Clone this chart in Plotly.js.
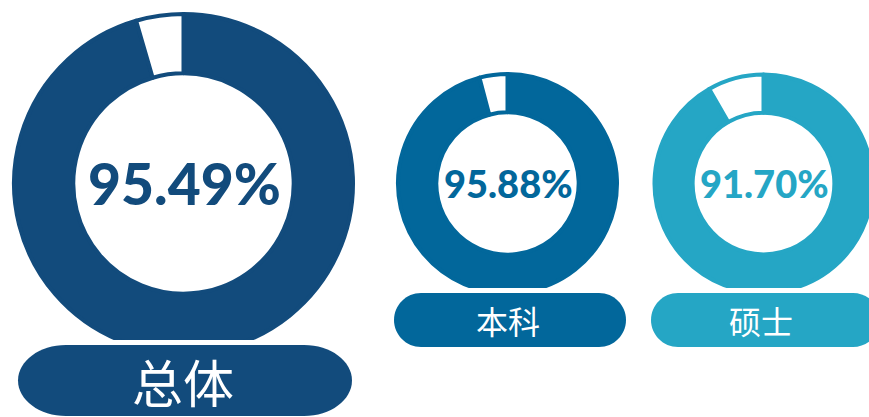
<!DOCTYPE html>
<html><head><meta charset="utf-8">
<script src="https://cdn.plot.ly/plotly-3.0.1.min.js"></script>
<style>html,body{margin:0;padding:0;overflow:hidden;background:#fff;width:869px;height:417px}#chart{width:900px;height:417px}</style>
</head><body><div id="chart"></div>
<script>
// ---- data ----
const categories = ['总体', '本科', '硕士'];
const rates = [95.49, 95.88, 91.70];
const rateLabels = ['95.49%', '95.88%', '91.70%'];
const colors = ['#124B7C', '#02679B', '#25A6C5'];

// ---- geometry (pixels) ----
const W = 900, H = 417;
const centers = [[183.5, 183.5], [507.5, 183.5], [763.5, 183.5]];
const radii = [169.5, 109.5, 109];
const cutY = [340, 288, 288];
const pills = [[18, 352, 345, 416, 48], [394, 626, 293, 347, 27], [651, 880, 293, 347, 27]];
const pctSize = [57, 38, 38];
const catSize = [51, 32, 32];

const X = p => p / W, Y = p => 1 - p / H;

const traces = rates.map((r, i) => {
  const [cx, cy] = centers[i], R = radii[i];
  return {
    type: 'pie', values: [r, 100 - r], labels: ['a', 'b'],
    sort: false, direction: 'clockwise', rotation: 0, hole: 0.65,
    marker: {colors: [colors[i], '#ffffff'], line: {color: colors[i], width: 4}},
    textinfo: 'none', hoverinfo: 'skip', showlegend: false,
    domain: {x: [X(cx - R), X(cx + R)], y: [Y(cy + R), Y(cy - R)]}
  };
});

function pillPath(x0, x1, y0, y1, rx) {
  const ry = (y1 - y0) / 2, kx = 0.5523 * rx, ky = 0.5523 * ry, ym = y0 + ry;
  const P = (x, y) => X(x) + ',' + Y(y);
  return 'M' + P(x0 + rx, y0) + ' L' + P(x1 - rx, y0) +
    ' C' + P(x1 - rx + kx, y0) + ' ' + P(x1, ym - ky) + ' ' + P(x1, ym) +
    ' C' + P(x1, ym + ky) + ' ' + P(x1 - rx + kx, y1) + ' ' + P(x1 - rx, y1) +
    ' L' + P(x0 + rx, y1) +
    ' C' + P(x0 + rx - kx, y1) + ' ' + P(x0, ym + ky) + ' ' + P(x0, ym) +
    ' C' + P(x0, ym - ky) + ' ' + P(x0 + rx - kx, y0) + ' ' + P(x0 + rx, y0) + ' Z';
}

const shapes = [];
centers.forEach((c, i) => {
  const R = radii[i] + 4;
  shapes.push({type: 'rect', xref: 'paper', yref: 'paper', layer: 'above',
    x0: X(c[0] - R), x1: X(c[0] + R), y0: Y(cutY[i] + 30), y1: Y(cutY[i]),
    fillcolor: '#ffffff', line: {width: 0}});
});
pills.forEach((p, i) => {
  shapes.push({type: 'path', xref: 'paper', yref: 'paper', layer: 'above',
    path: pillPath(p[0], p[1], p[2], p[3], p[4]), fillcolor: colors[i], line: {width: 0}});
});

const annotations = [];
centers.forEach((c, i) => {
  annotations.push({xref: 'paper', yref: 'paper', x: X(c[0] + 1), y: Y(c[1]),
    xanchor: 'center', yanchor: 'middle', showarrow: false, text: rateLabels[i],
    font: {family: 'Lato, "Open Sans", sans-serif', size: pctSize[i], color: colors[i], weight: 900}});
  const p = pills[i];
  const tx = i === 2 ? 761 : (p[0] + p[1]) / 2 - 2;
  annotations.push({xref: 'paper', yref: 'paper', x: X(tx), y: Y((p[2] + p[3]) / 2),
    xanchor: 'center', yanchor: 'middle', showarrow: false, text: categories[i],
    font: {family: '"Noto Sans CJK SC", sans-serif', size: catSize[i], color: '#ffffff'}});
});

Plotly.newPlot('chart', traces, {
  width: W, height: H, margin: {l: 0, r: 0, t: 0, b: 0, pad: 0},
  paper_bgcolor: '#ffffff', plot_bgcolor: '#ffffff',
  shapes: shapes, annotations: annotations
}, {staticPlot: true, displayModeBar: false});
</script></body></html>
